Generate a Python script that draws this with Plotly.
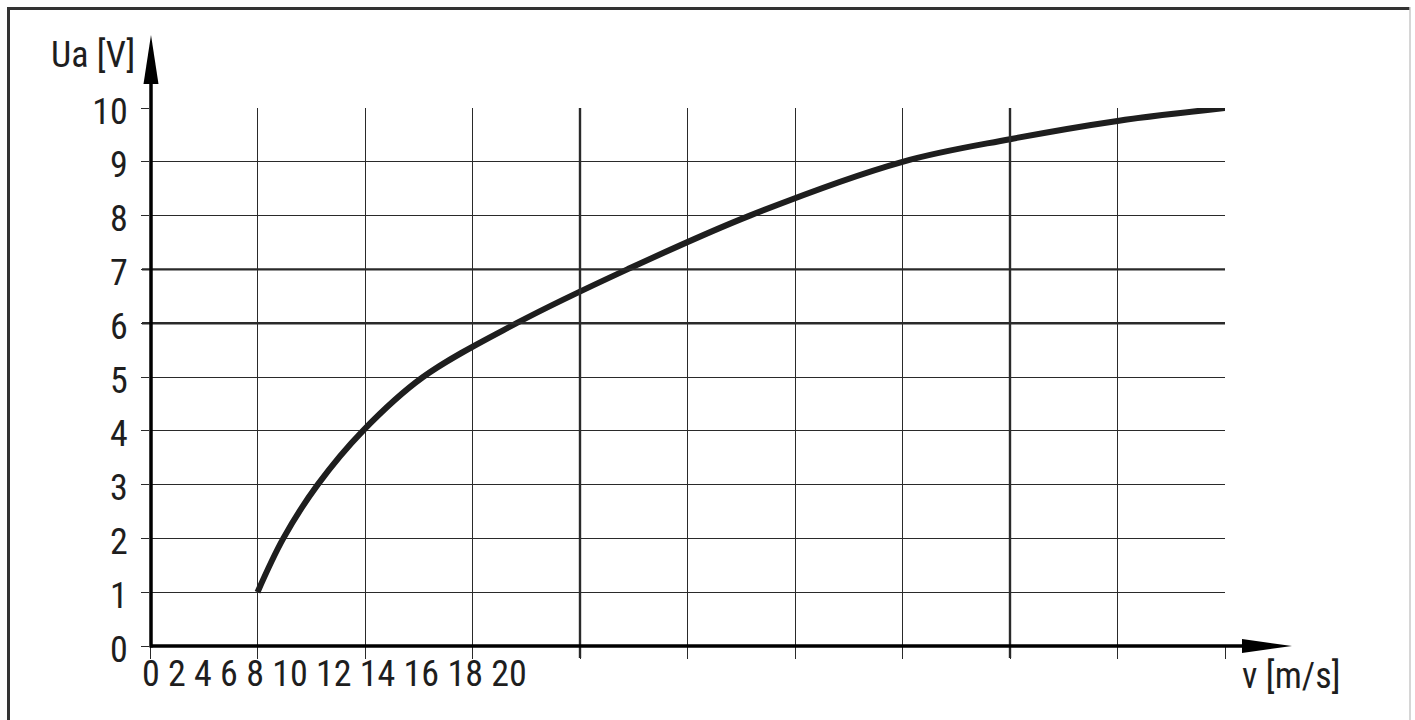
import plotly.graph_objects as go

# curve: x in grid columns (0..10), y in volts
curve_x = [1.0, 1.24, 1.56, 1.98, 2.54, 3.41, 4.44, 5.58, 7.0, 8.0, 9.0, 10.0]
curve_y = [1.0, 2.0, 3.0, 4.0, 5.0, 6.0, 7.0, 8.0, 9.0, 9.42, 9.76, 10.0]

y_ticks = [0, 1, 2, 3, 4, 5, 6, 7, 8, 9, 10]
x_tick_labels = ["0", "2", "4", "6", "8", "10", "12", "14", "16", "18", "20"]
heavy_x = [4, 8]
heavy_y = [6, 7]

W, H = 1415, 720
L, R, T, B = 150, 190, 108, 74
FONT = "Liberation Sans Narrow, Arial Narrow, Roboto Condensed, sans-serif"
INK = "#1e1e1e"
GRID = "#2a2a2a"


def px(x):
    return (x - L) / (W - L - R)


def py(y):
    return (H - B - y) / (H - T - B)


fig = go.Figure()
fig.add_trace(go.Scatter(
    x=curve_x, y=curve_y, mode="lines",
    line=dict(color=INK, width=6, shape="spline", smoothing=1.0),
    hoverinfo="skip", showlegend=False,
))

shapes = []
for v in heavy_x:
    shapes.append(dict(type="line", xref="x", yref="paper", x0=v, x1=v,
                       y0=py(658), y1=1, line=dict(color=GRID, width=2.4)))
for v in heavy_y:
    shapes.append(dict(type="line", xref="paper", yref="y", x0=px(142), x1=1,
                       y0=v, y1=v, line=dict(color=GRID, width=2.4)))

# axes with arrow heads
shapes.append(dict(type="line", xref="paper", yref="paper", x0=px(150), x1=px(1245),
                   y0=py(646), y1=py(646), line=dict(color="black", width=3.5)))
shapes.append(dict(type="line", xref="paper", yref="paper", x0=px(151), x1=px(151),
                   y0=py(647.5), y1=py(80), line=dict(color="black", width=3.5)))
shapes.append(dict(type="path", xref="paper", yref="paper", fillcolor="black",
                   line=dict(width=0),
                   path="M %f %f L %f %f L %f %f Z" % (px(1242), py(639), px(1292), py(646),
                                                       px(1242), py(653))))
shapes.append(dict(type="path", xref="paper", yref="paper", fillcolor="black",
                   line=dict(width=0),
                   path="M %f %f L %f %f L %f %f Z" % (px(143.5), py(84), px(151), py(35),
                                                       px(158.5), py(84))))

# frame around the picture
shapes.append(dict(type="line", xref="paper", yref="paper", x0=px(8.5), x1=px(8.5),
                   y0=py(7), y1=py(730), line=dict(color="#333", width=3)))
shapes.append(dict(type="line", xref="paper", yref="paper", x0=px(7), x1=px(1410),
                   y0=py(8.5), y1=py(8.5), line=dict(color="#333", width=3)))
shapes.append(dict(type="line", xref="paper", yref="paper", x0=px(1410), x1=px(1410),
                   y0=py(7), y1=py(730), line=dict(color="#c8c8c8", width=1.5)))

annotations = [
    dict(text="Ua [V]", xref="paper", yref="paper", x=px(137), y=py(55),
         xanchor="right", yanchor="middle", showarrow=False,
         font=dict(family=FONT, size=36, color=INK)),
    dict(text="v [m/s]", xref="paper", yref="paper", x=px(1291), y=py(676),
         xanchor="center", yanchor="middle", showarrow=False,
         font=dict(family=FONT, size=36, color=INK)),
    dict(text=" ".join(x_tick_labels), xref="paper", yref="paper", x=px(140), y=py(674),
         xanchor="left", yanchor="middle", showarrow=False,
         font=dict(family=FONT, size=36, color=INK)),
]

fig.update_layout(
    width=W, height=H,
    margin=dict(l=L, r=R, t=T, b=B),
    paper_bgcolor="white", plot_bgcolor="white",
    shapes=shapes, annotations=annotations,
    font=dict(family=FONT, size=36, color=INK),
    xaxis=dict(range=[0, 10], tickvals=list(range(11)), showticklabels=False,
               showgrid=True, gridcolor=GRID, gridwidth=1.3,
               ticks="outside", ticklen=12, tickwidth=1.3, tickcolor=GRID,
               showline=False, zeroline=False, fixedrange=True),
    yaxis=dict(range=[0, 10], tickvals=y_ticks, showgrid=True, gridcolor=GRID, gridwidth=1.3,
               ticks="outside", ticklen=8, tickwidth=1.3, tickcolor=GRID,
               ticklabelstandoff=6, ticklabelshift=3,
               tickfont=dict(family=FONT, size=36, color=INK),
               showline=False, zeroline=False, fixedrange=True),
)

# the page's default body margin would push the picture 8px right and down
fig.write_html("out.html", config={"displayModeBar": False},
               post_script="document.body.style.margin = '0';")
